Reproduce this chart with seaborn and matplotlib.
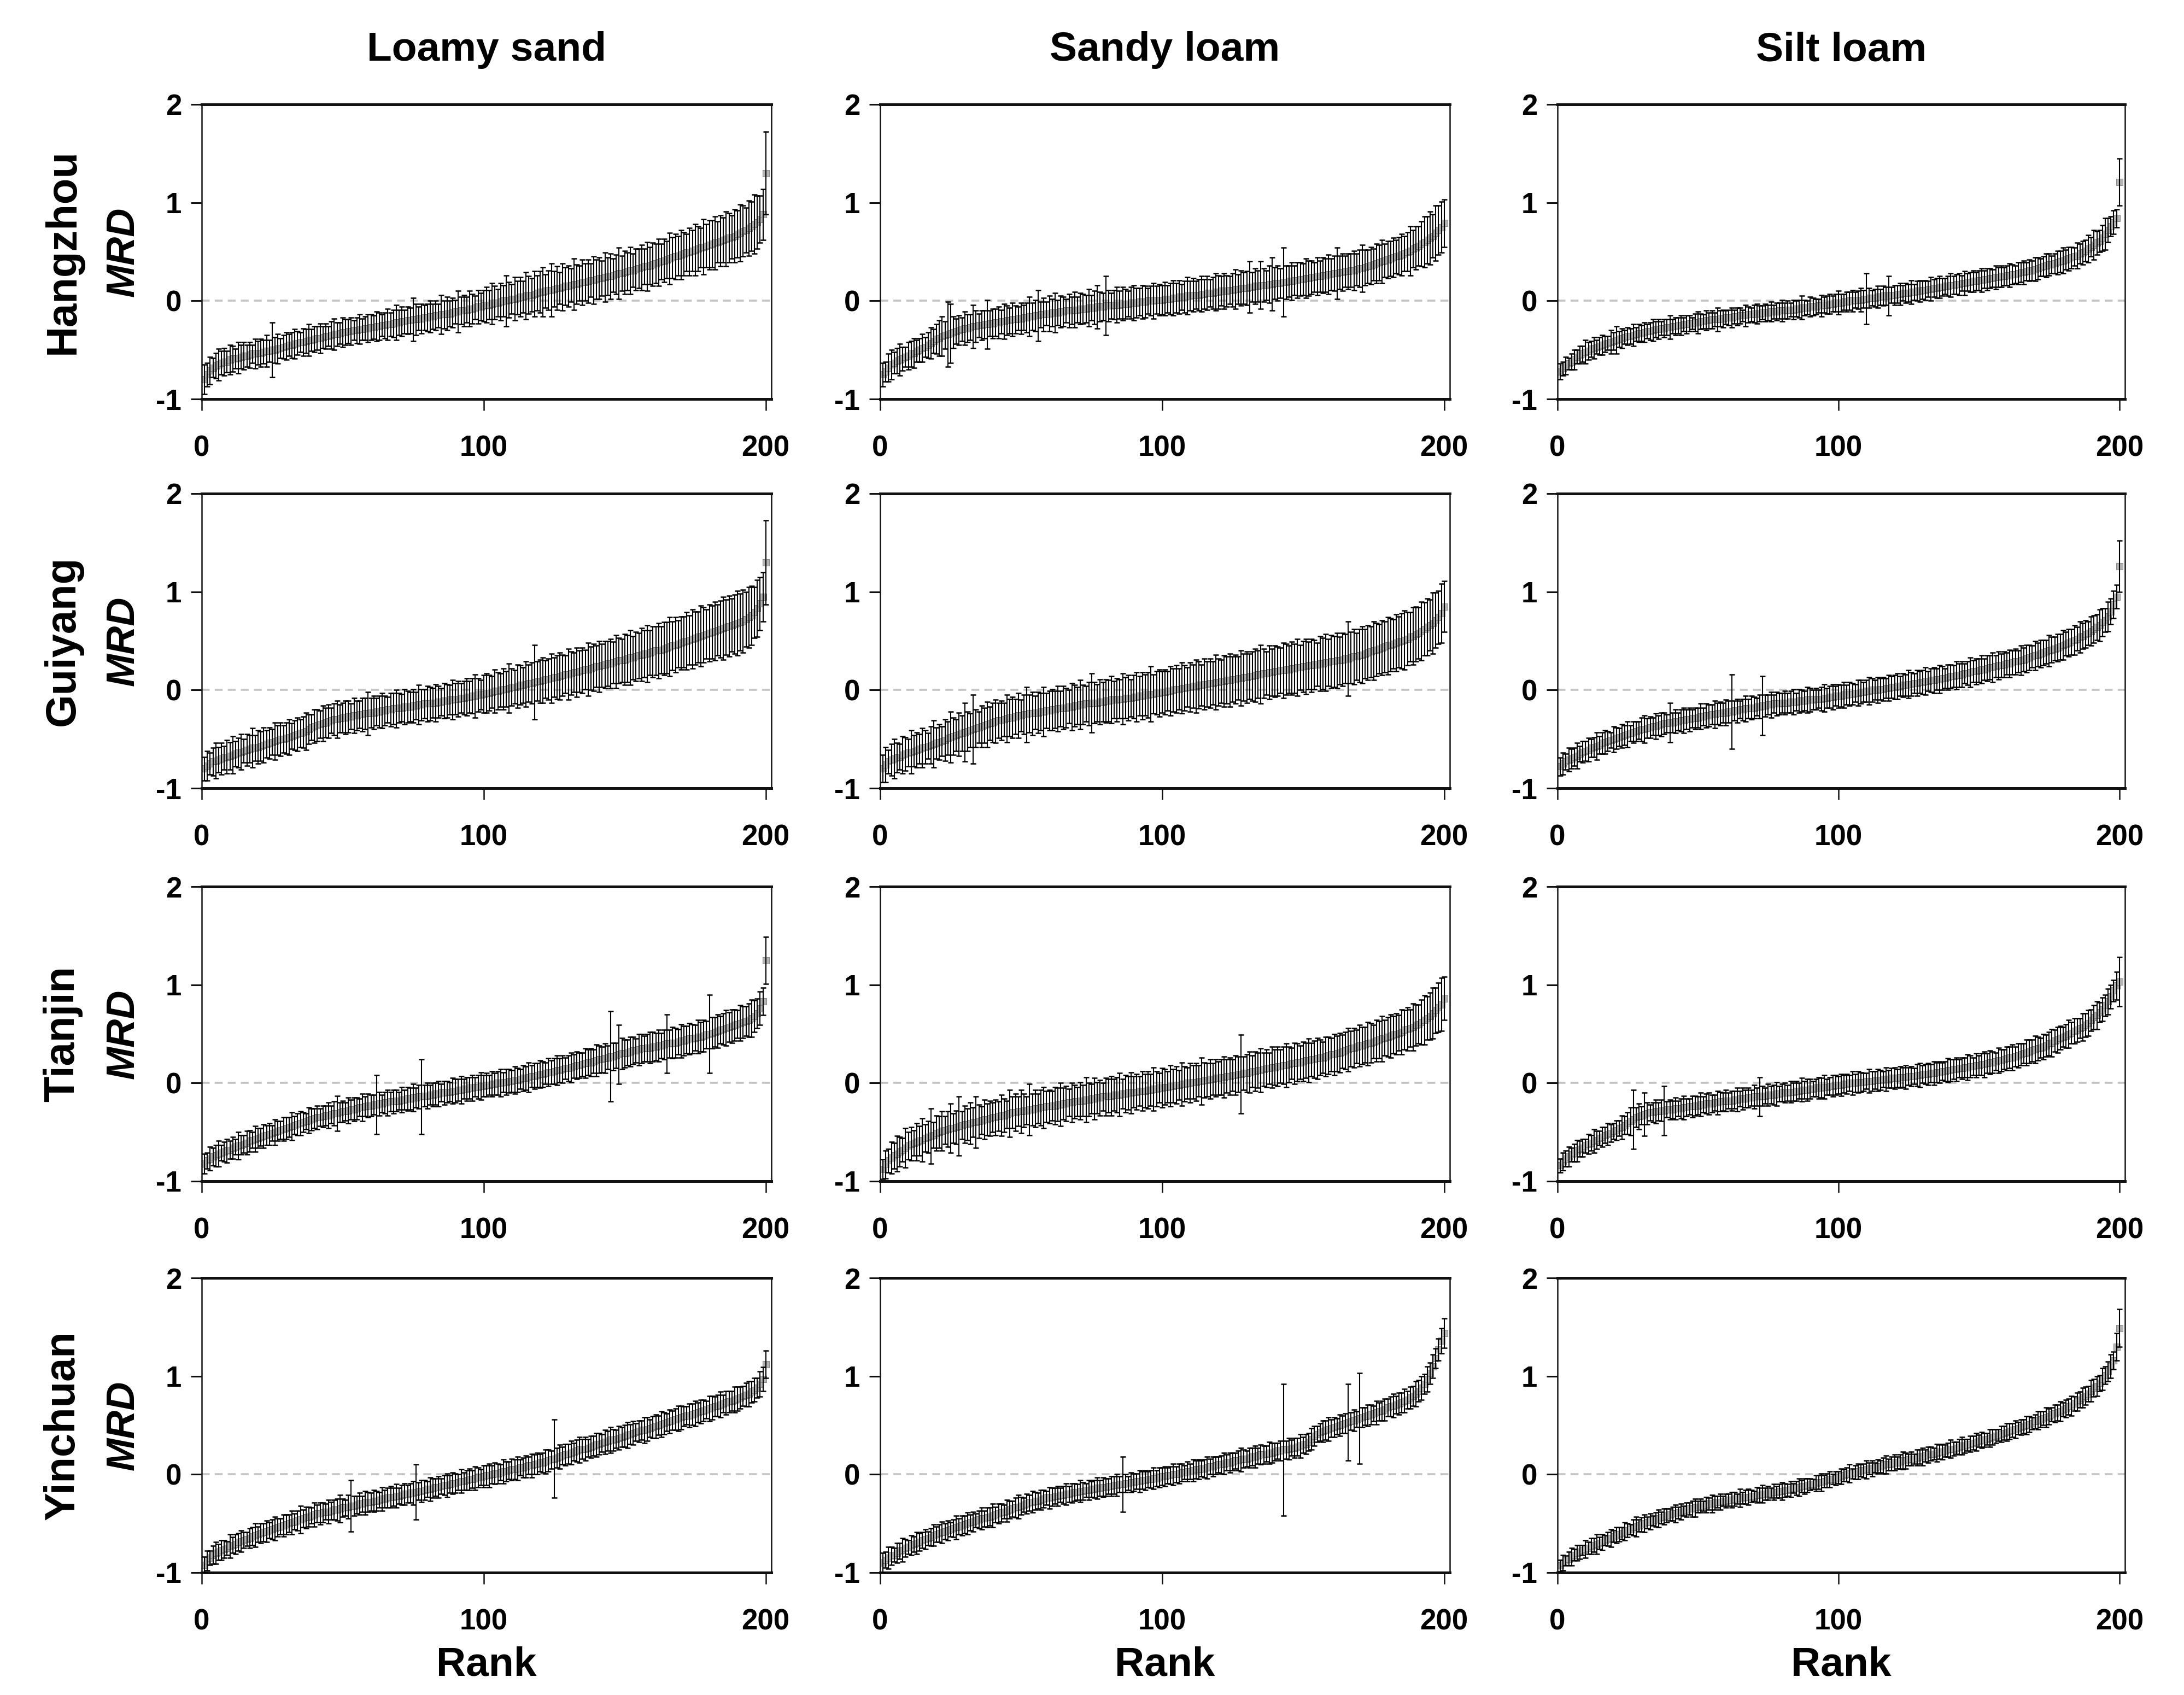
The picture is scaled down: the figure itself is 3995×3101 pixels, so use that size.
import numpy as np
import pandas as pd
import matplotlib
matplotlib.use("Agg")
import matplotlib.pyplot as plt
import seaborn as sns

# ---------------- data (MRD and its standard deviation, in hundredths) ----------------
CITIES = ["Hangzhou", "Guiyang", "Tianjin", "Yinchuan"]
SOILS = ["Loamy sand", "Sandy loam", "Silt loam"]
X_TICKS = [0, 100, 200]
Y_TICKS = [-1, 0, 1, 2]

HZ_LS_MRD = [-80,-75,-71,-68,-66,-65,-63,-62,-62,-60,-59,-59,-58,-57,-56,-56,-55,-54,-54,-53,
 -53,-52,-51,-51,-50,-50,-49,-48,-47,-46,-45,-45,-44,-43,-42,-42,-41,-40,-40,-39,
 -38,-38,-37,-36,-36,-35,-34,-34,-33,-32,-32,-31,-31,-30,-30,-29,-29,-28,-28,-27,
 -27,-26,-26,-25,-25,-24,-24,-23,-22,-22,-21,-21,-20,-20,-19,-19,-18,-18,-17,-17,
 -16,-16,-15,-15,-14,-14,-13,-13,-12,-11,-11,-10,-10,-9,-8,-8,-7,-6,-6,-5,
 -4,-4,-3,-2,-2,-1,0,0,1,2,2,3,4,4,5,6,6,7,8,9,
 9,10,11,11,12,13,13,14,15,15,16,17,17,18,19,19,20,21,21,22,
 23,23,24,25,25,26,27,28,28,29,30,31,31,32,33,34,35,35,36,37,
 38,39,40,41,42,43,44,45,46,47,48,49,50,51,52,53,54,55,56,57,
 58,59,60,61,62,63,64,65,66,68,69,71,72,74,76,78,80,83,88,130]
HZ_LS_SD = [15,12,14,10,13,16,12,14,11,15,13,10,16,12,14,11,13,9,15,12,
 14,12,16,11,28,13,15,10,12,14,11,13,15,12,10,14,12,16,11,13,
 12,15,11,13,10,14,16,12,11,15,13,12,14,10,13,15,11,12,14,13,
 12,15,14,11,13,16,12,14,18,13,15,12,14,13,22,16,12,15,13,14,
 16,13,15,12,20,14,17,13,15,12,21,14,16,13,18,15,12,17,14,16,
 18,15,21,17,14,19,16,26,18,15,22,17,20,16,24,19,17,23,18,21,
 25,17,20,27,18,22,16,24,19,21,17,26,20,18,23,19,22,17,24,20,
 21,18,25,19,23,17,20,26,18,22,19,24,17,21,20,23,18,25,19,22,
 20,24,18,22,19,26,21,23,20,25,22,19,24,21,26,23,20,28,22,25,
 24,27,21,26,23,28,25,22,27,24,29,26,23,28,25,30,27,24,26,42]

HZ_SL_MRD = [-75,-72,-68,-65,-63,-61,-60,-59,-57,-56,-54,-53,-51,-50,-48,-47,-45,-43,-41,-39,
 -38,-36,-35,-34,-33,-32,-31,-30,-29,-28,-28,-27,-26,-26,-25,-25,-24,-24,-23,-23,
 -22,-22,-21,-21,-20,-20,-19,-19,-18,-18,-17,-17,-16,-16,-15,-15,-14,-14,-13,-13,
 -12,-12,-12,-11,-11,-10,-10,-10,-9,-9,-8,-8,-8,-7,-7,-7,-6,-6,-6,-5,
 -5,-5,-4,-4,-4,-3,-3,-3,-2,-2,-2,-1,-1,-1,0,0,0,1,1,1,
 2,2,2,3,3,4,4,4,5,5,6,6,6,7,7,8,8,8,9,9,
 10,10,10,11,11,12,12,13,13,13,14,14,15,15,16,16,16,17,17,18,
 18,18,19,19,20,20,21,21,22,22,23,23,24,24,25,25,26,26,27,27,
 28,28,29,29,30,30,31,31,32,33,33,34,35,36,37,38,39,40,41,42,
 43,44,45,46,47,48,50,51,53,54,56,58,60,62,64,66,69,72,75,79]
HZ_SL_SD = [12,10,14,15,11,13,16,12,10,14,13,15,11,12,14,10,13,16,12,15,
 18,20,14,33,30,16,13,15,12,17,14,13,22,16,12,15,14,25,13,15,
 14,16,12,18,15,13,17,14,12,16,13,15,20,14,16,26,13,17,12,18,
 14,20,13,16,15,12,17,14,18,13,16,15,14,19,13,17,22,15,14,30,
 16,13,15,18,14,17,15,13,16,18,15,14,17,16,13,15,18,14,16,15,
 17,14,16,18,15,17,13,16,19,15,17,14,16,18,15,17,14,16,19,17,
 15,18,16,14,17,20,15,18,16,17,26,15,18,16,24,17,15,19,27,16,
 18,15,35,17,16,19,15,18,17,16,20,18,17,15,19,16,18,17,20,16,
 18,26,17,19,16,18,17,20,16,19,24,18,17,19,16,20,18,22,17,19,
 18,20,17,19,21,18,20,25,19,22,20,23,26,24,27,22,28,25,26,24]

HZ_SIL_MRD = [-72,-69,-66,-64,-62,-60,-57,-55,-54,-52,-51,-49,-48,-47,-46,-45,-44,-43,-42,-41,
 -40,-39,-38,-37,-36,-36,-35,-34,-33,-33,-32,-31,-31,-30,-29,-29,-28,-28,-27,-27,
 -26,-26,-25,-25,-24,-24,-23,-23,-22,-22,-21,-21,-20,-20,-19,-19,-19,-18,-18,-17,
 -17,-17,-16,-16,-15,-15,-15,-14,-14,-13,-13,-13,-12,-12,-12,-11,-11,-11,-10,-10,
 -10,-9,-9,-9,-8,-8,-7,-7,-7,-6,-6,-6,-5,-5,-4,-4,-3,-3,-2,-2,
 -2,-1,-1,0,0,1,1,1,2,2,3,3,3,4,4,5,5,5,6,6,
 7,7,8,8,8,9,9,10,10,11,11,12,12,13,13,14,14,15,15,16,
 16,17,17,18,18,19,19,20,20,21,21,22,22,23,23,24,24,25,25,26,
 26,27,27,28,29,29,30,31,31,32,33,34,35,36,37,37,38,39,40,41,
 42,43,44,45,46,48,49,51,53,55,57,59,61,64,68,72,76,80,84,121]
HZ_SIL_SD = [8,7,9,6,8,10,7,9,8,12,9,8,11,7,9,10,8,7,12,9,
 14,8,10,7,9,8,11,7,9,8,10,7,9,11,8,10,7,9,8,12,
 7,9,8,10,7,9,8,6,9,11,8,7,10,8,9,7,12,8,9,7,
 8,10,7,9,8,6,11,8,7,9,10,8,7,9,8,10,7,9,8,11,
 8,9,7,10,8,9,12,8,7,10,9,8,7,11,8,9,10,8,9,12,
 9,8,10,9,11,8,9,12,9,26,10,8,9,11,8,10,9,20,8,10,
 9,11,8,10,9,12,8,10,11,9,10,8,12,9,10,11,9,8,10,12,
 9,10,11,8,12,9,10,11,9,10,12,9,11,10,9,12,10,11,9,10,
 12,10,9,11,10,12,9,11,10,12,11,9,10,12,11,9,10,12,11,13,
 10,12,11,9,13,10,12,11,14,10,15,12,11,13,16,12,10,12,9,24]

GY_LS_MRD = [-80,-77,-75,-73,-72,-71,-70,-69,-68,-67,-66,-65,-64,-63,-62,-61,-60,-59,-59,-58,
 -57,-56,-55,-54,-53,-52,-51,-50,-50,-49,-48,-47,-46,-45,-44,-43,-42,-40,-38,-37,
 -36,-35,-34,-33,-32,-31,-30,-30,-29,-28,-28,-27,-27,-26,-26,-25,-25,-24,-24,-23,
 -23,-22,-22,-21,-21,-20,-20,-19,-19,-18,-18,-17,-17,-17,-16,-16,-15,-15,-14,-14,
 -14,-13,-13,-12,-12,-11,-11,-10,-10,-9,-9,-8,-8,-7,-7,-6,-6,-5,-5,-4,
 -3,-3,-2,-1,-1,0,1,1,2,3,3,4,5,5,6,7,7,8,9,9,
 10,11,11,12,13,13,14,15,16,16,17,18,18,19,20,21,21,22,23,24,
 24,25,26,27,27,28,29,30,30,31,32,33,33,34,35,36,37,37,38,39,
 40,40,41,42,43,44,45,46,47,48,49,50,51,52,53,54,55,56,57,58,
 59,60,61,62,63,64,65,66,67,68,69,70,72,74,76,79,83,88,95,130]
GY_LS_SD = [12,15,11,14,18,13,16,12,17,14,19,13,15,18,12,16,14,20,13,17,
 15,18,14,16,13,19,15,17,14,16,18,13,15,17,14,16,19,15,13,17,
 16,14,18,15,17,13,16,19,14,15,17,16,13,18,15,14,17,16,22,15,
 17,14,16,18,15,13,17,16,19,15,14,18,16,15,17,14,20,16,15,18,
 17,15,19,16,14,18,17,15,20,16,18,15,17,19,16,18,22,17,15,19,
 20,18,16,22,19,17,21,18,25,19,17,22,20,18,23,19,21,38,20,22,
 23,19,21,25,20,22,24,21,19,26,22,20,25,21,23,20,27,22,24,21,
 26,22,24,23,25,21,27,23,22,26,24,28,22,25,23,27,24,29,23,26,
 25,28,24,27,26,30,25,28,24,27,26,29,25,30,27,26,31,28,25,29,
 27,30,26,29,32,28,31,27,30,33,29,32,28,31,30,26,29,27,25,43]

GY_SL_MRD = [-80,-76,-73,-71,-70,-69,-68,-66,-65,-64,-63,-62,-61,-60,-59,-58,-57,-56,-55,-54,
 -53,-52,-51,-49,-48,-47,-46,-45,-44,-43,-42,-41,-40,-39,-38,-37,-36,-35,-34,-33,
 -32,-31,-31,-30,-29,-28,-28,-27,-26,-26,-25,-25,-24,-24,-23,-23,-22,-22,-21,-21,
 -20,-20,-19,-19,-18,-18,-17,-17,-16,-16,-15,-15,-14,-14,-13,-13,-13,-12,-12,-11,
 -11,-10,-10,-10,-9,-9,-8,-8,-8,-7,-7,-6,-6,-5,-5,-4,-4,-3,-3,-2,
 -2,-1,-1,0,1,1,2,2,3,3,4,4,5,5,6,6,7,7,8,8,
 9,9,10,10,11,11,12,12,13,13,14,14,15,16,16,17,17,18,18,19,
 19,20,20,21,21,22,22,23,23,24,24,25,25,26,26,27,27,28,28,29,
 29,30,30,31,32,32,33,34,34,35,36,37,38,39,40,41,42,43,44,45,
 46,47,48,49,50,51,52,54,55,57,58,60,62,64,66,68,71,74,78,85]
GY_SL_SD = [14,18,12,16,20,15,13,19,17,14,22,16,18,15,20,17,13,19,24,16,
 18,15,21,17,26,19,16,22,18,30,20,17,35,19,16,21,18,23,17,20,
 22,18,20,17,24,19,21,18,23,16,20,28,19,22,17,21,19,25,18,20,
 21,19,23,18,22,20,17,24,21,19,25,20,18,22,30,21,19,23,20,22,
 21,24,19,22,20,26,21,23,19,22,25,20,24,21,23,28,20,22,24,21,
 23,20,25,22,24,21,26,23,20,25,22,27,24,21,26,23,25,22,28,24,
 22,26,24,27,23,25,22,28,24,26,23,25,27,24,30,25,22,27,24,26,
 25,23,28,26,24,27,25,29,23,26,28,24,27,25,22,28,26,29,24,27,
 26,28,24,27,25,38,26,28,24,27,29,25,28,26,30,27,25,28,26,29,
 27,25,29,26,28,30,27,25,29,28,26,30,27,29,26,31,28,27,30,26]

GY_SIL_MRD = [-78,-75,-73,-71,-70,-68,-67,-65,-63,-62,-61,-59,-58,-57,-56,-54,-53,-52,-51,-50,
 -49,-48,-47,-46,-45,-44,-43,-42,-41,-40,-40,-39,-38,-37,-37,-36,-35,-34,-34,-33,
 -33,-32,-32,-31,-31,-30,-30,-29,-29,-28,-27,-27,-26,-26,-25,-25,-24,-24,-23,-23,
 -22,-22,-21,-21,-20,-20,-19,-19,-18,-18,-17,-17,-16,-16,-15,-15,-14,-14,-14,-13,
 -13,-13,-12,-12,-12,-11,-11,-11,-10,-10,-10,-9,-9,-9,-8,-8,-7,-7,-6,-6,
 -6,-5,-5,-4,-4,-3,-3,-2,-2,-1,-1,0,0,0,1,1,2,2,3,3,
 4,4,5,5,6,6,7,7,8,8,9,9,10,10,11,11,12,12,13,14,
 14,15,15,16,17,17,18,19,19,20,21,21,22,23,23,24,25,25,26,27,
 27,28,29,29,30,31,32,33,34,35,36,37,38,39,40,41,42,43,44,46,
 47,48,49,51,52,54,55,57,58,60,62,64,66,69,71,75,80,87,95,126]
GY_SIL_SD = [9,11,8,12,10,9,13,8,11,10,12,9,10,14,9,11,12,10,8,13,
 11,9,12,10,13,8,11,10,9,12,14,10,11,9,13,10,12,11,9,20,
 10,12,9,11,13,10,12,9,11,10,13,9,12,11,10,14,11,12,10,13,
 11,38,10,12,9,11,13,10,12,11,9,12,30,11,10,13,9,12,11,10,
 12,10,11,13,9,12,11,10,13,12,10,11,9,12,14,10,11,13,10,12,
 11,13,10,12,11,9,13,12,10,11,14,12,10,13,11,12,10,13,11,12,
 13,10,12,11,14,12,10,13,11,12,14,10,12,13,11,14,12,10,13,12,
 11,14,12,13,10,12,15,11,13,12,14,11,13,12,15,11,14,12,13,11,
 14,12,13,11,15,12,14,13,11,15,12,14,13,12,16,13,12,14,13,15,
 12,14,13,15,12,16,13,14,12,15,14,13,16,14,12,15,13,14,12,26]

TJ_LS_MRD = [-82,-79,-77,-75,-74,-72,-71,-70,-69,-68,-66,-65,-64,-63,-62,-61,-59,-58,-57,-56,
 -55,-54,-53,-52,-51,-50,-49,-48,-47,-46,-45,-44,-43,-42,-41,-40,-39,-38,-37,-36,
 -35,-35,-34,-33,-33,-32,-31,-31,-30,-29,-29,-28,-27,-27,-26,-25,-25,-24,-23,-23,
 -22,-22,-21,-21,-20,-20,-19,-19,-18,-18,-17,-17,-16,-16,-15,-15,-14,-14,-13,-13,
 -12,-12,-11,-11,-10,-10,-9,-9,-8,-8,-7,-7,-6,-6,-5,-5,-4,-4,-3,-3,
 -2,-2,-1,-1,0,0,1,1,2,2,3,3,4,5,5,6,7,7,8,9,
 9,10,11,11,12,13,13,14,15,15,16,17,18,18,19,20,21,21,22,23,
 24,24,25,26,27,27,28,29,30,30,31,32,33,33,34,35,35,36,36,37,
 37,38,38,39,40,40,41,41,42,43,43,44,45,45,46,47,47,48,49,50,
 51,52,53,54,55,56,57,58,59,60,61,62,63,64,66,68,71,76,83,125]
TJ_LS_SD = [10,8,12,9,11,13,8,10,12,9,11,8,14,10,9,12,11,8,13,10,
 9,12,10,11,8,13,10,9,12,11,10,14,9,11,12,10,8,13,11,10,
 12,9,11,10,13,9,12,18,10,11,9,13,10,12,11,9,14,10,12,11,
 10,30,12,9,11,13,10,12,11,9,13,10,12,11,14,10,12,38,11,13,
 10,12,11,13,9,12,11,10,13,12,11,14,10,12,11,13,10,12,14,11,
 12,10,13,11,12,14,10,13,12,11,14,12,10,13,12,15,11,13,12,14,
 13,11,14,12,13,15,12,14,11,13,15,12,14,13,12,15,13,14,12,16,
 14,13,15,12,46,14,13,30,16,14,13,15,14,12,16,15,13,14,16,15,
 14,16,13,15,30,14,16,15,13,17,15,14,16,15,13,17,15,16,14,40,
 16,15,17,14,16,18,15,17,16,14,18,16,15,17,19,16,15,17,14,24]

TJ_SL_MRD = [-88,-83,-79,-76,-74,-72,-70,-68,-66,-64,-62,-61,-60,-59,-58,-56,-55,-54,-53,-51,
 -50,-49,-48,-47,-46,-46,-45,-44,-43,-42,-42,-41,-40,-40,-39,-38,-37,-37,-36,-35,
 -35,-34,-33,-33,-32,-31,-30,-30,-29,-29,-28,-28,-27,-27,-26,-26,-25,-25,-24,-24,
 -23,-23,-22,-22,-21,-21,-20,-20,-19,-19,-18,-18,-17,-17,-16,-16,-15,-15,-14,-14,
 -13,-13,-12,-12,-12,-11,-11,-10,-10,-9,-9,-8,-8,-8,-7,-7,-6,-6,-5,-5,
 -4,-4,-3,-3,-2,-2,-1,-1,0,0,1,1,2,2,3,3,4,4,5,5,
 6,6,7,7,8,8,9,9,10,10,11,12,12,13,13,14,15,15,16,16,
 17,17,18,18,19,20,20,21,21,22,23,23,24,24,25,26,26,27,28,29,
 29,30,31,32,33,34,35,36,37,38,38,39,40,41,42,43,44,45,46,47,
 48,49,50,51,52,54,55,56,57,59,60,62,64,66,68,71,74,77,80,86]
TJ_SL_SD = [10,14,12,16,13,18,15,12,20,14,17,13,19,15,22,14,16,28,13,18,
 16,20,14,18,25,15,17,30,14,19,16,21,15,26,17,14,20,16,18,15,
 18,15,21,17,14,24,16,19,15,22,17,14,26,16,19,15,18,21,16,17,
 15,19,17,22,16,18,14,20,17,15,19,16,23,17,15,21,16,18,14,19,
 17,20,16,18,22,15,19,17,21,16,18,15,20,17,19,16,22,18,15,20,
 18,16,21,17,19,15,22,18,16,20,17,19,16,24,18,17,20,16,19,17,
 18,21,17,19,16,20,18,40,17,19,21,16,20,18,22,17,19,16,21,18,
 20,17,19,22,18,16,21,19,17,20,18,22,17,19,21,18,16,20,19,17,
 21,18,20,17,19,22,18,20,17,21,19,18,22,20,17,21,19,23,18,20,
 22,19,21,18,23,20,22,19,24,21,20,23,25,22,24,26,23,25,27,22]

TJ_SIL_MRD = [-84,-80,-77,-75,-73,-71,-69,-67,-66,-64,-62,-61,-59,-58,-56,-55,-53,-52,-51,-49,
 -48,-46,-45,-43,-41,-39,-37,-35,-34,-33,-32,-31,-30,-30,-29,-29,-28,-28,-27,-27,
 -27,-26,-26,-26,-25,-25,-24,-24,-23,-23,-22,-22,-21,-21,-21,-20,-20,-19,-19,-18,
 -18,-18,-17,-17,-16,-16,-16,-15,-15,-14,-14,-14,-13,-13,-12,-12,-12,-11,-11,-10,
 -10,-10,-9,-9,-8,-8,-7,-7,-7,-6,-6,-5,-5,-5,-4,-4,-3,-3,-2,-2,
 -2,-1,-1,0,0,0,1,1,1,2,2,2,3,3,3,4,4,4,5,5,
 5,6,6,6,7,7,7,8,8,9,9,9,10,10,11,11,12,12,13,13,
 14,14,15,15,16,16,17,17,18,18,19,19,20,21,21,22,23,23,24,25,
 26,26,27,28,29,30,31,32,33,34,35,36,37,38,40,41,43,44,46,47,
 48,50,51,53,54,56,57,59,61,64,67,69,72,75,79,83,88,94,99,103]
TJ_SIL_SD = [7,9,8,10,7,9,11,8,9,7,10,8,12,9,7,10,8,11,9,8,
 10,8,12,9,11,14,30,10,13,9,22,11,8,10,12,9,11,25,8,10,
 9,11,8,10,12,9,8,11,10,9,12,8,10,11,9,8,12,10,9,11,
 8,10,9,12,8,11,9,10,8,12,9,20,10,8,11,9,10,12,8,9,
 10,8,11,9,10,8,12,9,11,10,8,9,11,10,12,8,9,11,10,9,
 11,9,10,8,12,9,11,10,9,8,12,10,9,11,10,8,12,9,10,11,
 9,11,10,12,9,10,8,11,12,9,10,11,9,12,10,11,9,10,12,11,
 10,12,9,11,10,13,11,9,12,10,11,13,10,12,11,9,13,11,10,12,
 11,13,10,12,11,10,13,12,11,14,12,10,13,11,12,14,11,13,12,10,
 12,14,11,13,12,10,14,12,13,11,12,14,10,12,11,13,12,11,14,25]

YC_LS_MRD = [-92,-88,-85,-82,-80,-79,-77,-76,-75,-73,-72,-71,-69,-68,-67,-66,-65,-63,-62,-61,
 -60,-59,-58,-57,-56,-55,-54,-53,-52,-51,-50,-49,-48,-47,-46,-45,-44,-43,-42,-41,
 -40,-40,-39,-38,-38,-37,-36,-36,-35,-34,-34,-33,-32,-32,-31,-30,-30,-29,-28,-28,
 -27,-27,-26,-25,-25,-24,-23,-23,-22,-22,-21,-20,-20,-19,-19,-18,-17,-17,-16,-15,
 -15,-14,-13,-13,-12,-11,-11,-10,-9,-9,-8,-7,-7,-6,-5,-5,-4,-3,-3,-2,
 -1,-1,0,1,1,2,3,3,4,5,5,6,7,7,8,9,9,10,11,12,
 12,13,14,15,16,17,18,19,20,21,22,23,24,25,26,26,27,28,29,30,
 31,32,33,34,35,35,36,37,38,39,40,41,42,43,44,45,45,46,47,48,
 49,50,51,52,53,54,55,56,57,58,59,60,60,61,62,63,64,65,66,67,
 68,69,70,71,72,73,74,75,76,77,78,80,81,82,84,86,88,92,97,112]
YC_LS_SD = [8,10,7,9,11,8,10,9,7,12,8,10,9,11,8,7,10,9,12,8,
 10,9,11,8,10,12,9,8,11,10,9,12,8,10,14,9,11,10,8,12,
 9,11,10,8,12,9,10,11,14,9,8,12,26,10,9,11,8,12,10,9,
 11,10,8,12,9,10,11,9,12,8,10,11,9,10,12,28,9,11,10,8,
 12,10,9,11,8,10,12,9,11,10,8,12,9,10,11,9,12,10,8,11,
 10,12,9,11,10,8,12,10,9,11,10,12,8,10,11,9,12,10,11,9,
 10,12,11,9,40,10,12,9,11,10,12,9,11,13,10,12,9,11,10,12,
 11,9,12,10,13,11,9,12,10,11,13,10,12,9,11,10,13,12,9,11,
 12,10,13,11,9,12,10,11,13,12,10,9,12,11,13,10,12,11,9,13,
 12,10,11,13,9,12,11,10,13,12,11,10,12,13,11,12,10,13,12,14]

YC_SL_MRD = [-90,-87,-85,-83,-82,-80,-78,-77,-75,-74,-72,-71,-70,-69,-67,-66,-65,-64,-62,-61,
 -60,-59,-58,-57,-56,-55,-54,-53,-52,-51,-50,-49,-48,-47,-46,-45,-45,-44,-43,-42,
 -41,-40,-39,-38,-37,-36,-35,-34,-33,-32,-31,-30,-29,-28,-27,-27,-26,-25,-24,-24,
 -23,-22,-22,-21,-21,-20,-20,-19,-18,-18,-17,-17,-16,-16,-15,-15,-14,-14,-13,-13,
 -12,-12,-11,-11,-10,-10,-9,-9,-8,-8,-7,-7,-6,-6,-5,-5,-4,-4,-3,-2,
 -2,-1,-1,0,0,1,2,2,3,3,4,5,5,6,6,7,8,8,9,10,
 10,11,12,12,13,14,14,15,16,16,17,18,18,19,20,20,21,22,22,23,
 24,24,25,25,26,27,27,28,29,30,31,33,36,39,41,43,44,45,46,47,
 48,49,50,51,52,53,54,55,56,57,58,59,60,61,62,63,64,65,66,68,
 69,70,71,72,73,75,76,78,80,82,85,88,92,97,103,110,118,127,136,144]
YC_SL_SD = [10,8,11,9,7,10,8,12,9,7,10,8,11,9,8,10,7,9,11,8,
 9,11,8,10,7,9,12,8,10,9,11,8,10,7,9,11,8,10,9,12,
 8,10,9,7,11,9,8,10,12,9,7,10,8,11,9,8,10,9,7,11,
 9,8,10,7,9,11,8,10,9,8,11,9,7,10,8,9,11,8,10,9,
 8,10,9,11,8,28,9,7,10,9,8,11,9,10,8,9,11,8,10,9,
 10,8,9,11,8,10,9,7,10,8,11,9,10,8,9,11,8,10,9,8,
 9,11,8,10,9,8,10,12,9,8,10,9,11,8,10,9,8,11,10,9,
 8,10,67,9,11,8,10,9,12,8,10,9,11,10,8,9,11,10,12,9,
 10,8,11,9,10,39,9,11,8,46,10,9,11,10,8,12,9,10,11,9,
 10,12,9,11,10,12,9,11,10,13,11,12,10,13,11,12,10,11,13,15]

YC_SIL_MRD = [-93,-90,-88,-86,-84,-82,-80,-79,-77,-76,-75,-73,-72,-71,-70,-69,-67,-66,-65,-63,
 -62,-61,-60,-58,-57,-56,-54,-53,-52,-51,-50,-49,-48,-47,-46,-45,-44,-43,-42,-41,
 -40,-40,-39,-38,-37,-36,-35,-35,-34,-33,-32,-32,-31,-30,-30,-29,-28,-28,-27,-27,
 -26,-26,-25,-25,-24,-24,-23,-23,-22,-22,-21,-21,-20,-20,-19,-19,-18,-18,-17,-17,
 -16,-16,-15,-14,-14,-13,-12,-12,-11,-10,-10,-9,-8,-8,-7,-6,-5,-5,-4,-3,
 -2,-1,0,1,1,2,3,4,4,5,6,6,7,8,8,9,10,10,11,12,
 12,13,14,14,15,16,16,17,18,18,19,20,21,21,22,23,23,24,25,26,
 26,27,28,29,29,30,31,32,33,34,35,35,36,37,38,39,40,41,42,43,
 44,45,46,47,48,49,50,51,52,54,55,56,57,58,59,61,62,63,64,66,
 67,69,70,72,74,76,78,80,82,85,88,90,93,97,101,105,110,116,130,149]
YC_SIL_SD = [6,8,5,7,9,6,8,7,5,9,6,8,7,10,6,8,5,7,9,6,
 8,7,6,9,7,5,8,10,6,7,9,6,8,5,7,9,6,8,7,6,
 7,9,6,8,5,7,6,8,9,6,7,5,8,6,9,7,6,8,5,7,
 6,8,7,5,9,6,7,8,6,5,8,7,9,6,7,5,8,6,7,9,
 7,6,8,5,7,9,6,8,7,6,5,8,7,9,6,7,8,5,7,6,
 8,6,7,9,5,7,8,6,7,9,6,8,5,7,6,8,9,6,7,8,
 6,7,9,8,6,7,5,8,7,9,6,8,7,6,9,7,8,6,7,9,
 7,6,8,9,7,6,8,7,9,6,8,7,6,9,8,7,6,8,7,9,
 8,7,9,6,8,7,9,8,6,7,9,8,7,10,8,7,9,8,10,7,
 9,8,10,7,9,8,10,9,8,11,9,10,8,11,9,10,12,9,14,19]

PANELS = [
    [(HZ_LS_MRD, HZ_LS_SD), (HZ_SL_MRD, HZ_SL_SD), (HZ_SIL_MRD, HZ_SIL_SD)],
    [(GY_LS_MRD, GY_LS_SD), (GY_SL_MRD, GY_SL_SD), (GY_SIL_MRD, GY_SIL_SD)],
    [(TJ_LS_MRD, TJ_LS_SD), (TJ_SL_MRD, TJ_SL_SD), (TJ_SIL_MRD, TJ_SIL_SD)],
    [(YC_LS_MRD, YC_LS_SD), (YC_SL_MRD, YC_SL_SD), (YC_SIL_MRD, YC_SIL_SD)],
]

# ---------------- style ----------------
sns.set_theme(style="white")
plt.rcParams["font.family"] = ["Liberation Sans", "DejaVu Sans"]
plt.rcParams["font.weight"] = "bold"
plt.rcParams["text.color"] = "black"
plt.rcParams["axes.labelcolor"] = "black"
plt.rcParams["xtick.color"] = "black"
plt.rcParams["ytick.color"] = "black"

W, H, DPI = 3995, 3101, 200
fig = plt.figure(figsize=(W / DPI, H / DPI), dpi=DPI)

col_left = [369, 1610, 2849]
col_w = [1042, 1042, 1038]
row_top = [191, 903, 1622, 2338]
row_h = 539

for r, city in enumerate(CITIES):
    for c, soil in enumerate(SOILS):
        left = col_left[c] / W
        bottom = 1 - (row_top[r] + row_h) / H
        ax = fig.add_axes([left, bottom, col_w[c] / W, row_h / H])
        mrd_vals, sd_vals = PANELS[r][c]
        df = pd.DataFrame({
            "Rank": np.arange(1, len(mrd_vals) + 1),
            "MRD": np.array(mrd_vals) / 100.0,
            "SD": np.array(sd_vals) / 100.0,
        })
        ax.axhline(0, color="#c4c4c4", lw=1.3, ls=(0, (4, 2.6)), zorder=1)
        sns.scatterplot(data=df, x="Rank", y="MRD", ax=ax, marker="s", s=17,
                        color="#b4b4b4", edgecolor="#7a7a7a", linewidth=0.3,
                        zorder=2, legend=False)
        ax.errorbar(df["Rank"], df["MRD"], yerr=df["SD"], fmt="none",
                    ecolor="black", elinewidth=0.75, capsize=1.7,
                    capthick=0.9, zorder=3)
        ax.set_xlim(0, 202)
        ax.set_ylim(-1, 2)
        ax.set_xticks(X_TICKS)
        ax.set_yticks(Y_TICKS)
        ax.set_xlabel("")
        ax.set_ylabel("")
        for side in ["top", "bottom"]:
            ax.spines[side].set_linewidth(1.8)
            ax.spines[side].set_color("#111111")
        for side in ["left", "right"]:
            ax.spines[side].set_linewidth(0.9)
            ax.spines[side].set_color("#111111")
        ax.tick_params(axis="x", direction="out", length=7.5, width=0.9,
                       color="#111111", labelcolor="black", labelsize=19,
                       pad=16, bottom=True, top=False)
        ax.tick_params(axis="y", direction="out", length=7.2, width=1.1,
                       color="#111111", labelcolor="black", labelsize=19,
                       pad=6, left=True, right=False)
        ax.set_yticklabels([str(v) for v in Y_TICKS])
        for lab in ax.get_xticklabels() + ax.get_yticklabels():
            lab.set_fontweight("bold")

        cx = (col_left[c] + col_w[c] / 2) / W
        if r == 0:
            fig.text(cx, 1 - 92 / H, soil, ha="center", va="center",
                     fontsize=27, fontweight="bold", color="black")
        if r == len(CITIES) - 1:
            fig.text(cx, 1 - 3046 / H, "Rank", ha="center", va="center",
                     fontsize=27, fontweight="bold", color="black")
        if c == 0:
            cy = 1 - (row_top[r] + row_h / 2) / H
            fig.text(115 / W, cy, city, ha="center", va="center",
                     rotation=90, fontsize=28, fontweight="bold", color="black")
            fig.text(226 / W, cy, "MRD", ha="center", va="center",
                     rotation=90, fontsize=26, fontweight="bold",
                     fontstyle="italic", color="black")

fig.savefig("out.png", dpi=DPI)
